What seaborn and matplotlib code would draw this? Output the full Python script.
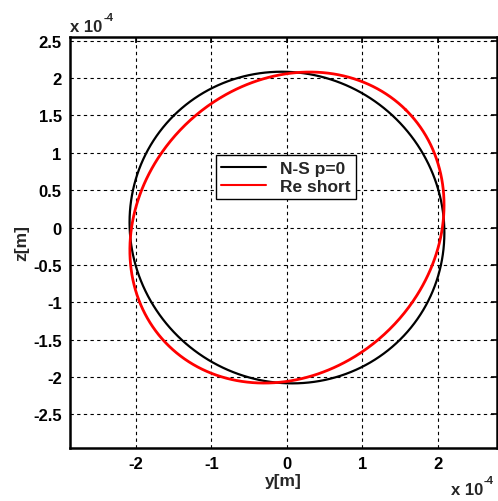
import numpy as np
import pandas as pd
import seaborn as sns
import matplotlib
matplotlib.use("Agg")
import matplotlib.pyplot as plt
from matplotlib.ticker import MultipleLocator, FuncFormatter

# Orbit shapes in the y-z plane (metres): semi-axes, tilt of the major axis, centre
series_names = ["N-S p=0", "Re short"]
semi_major = [2.12e-4, 2.227e-4]
semi_minor = [2.05e-4, 1.924e-4]
tilt_deg = [135.0, 45.0]
centre_y = [0.0, 0.0]
centre_z = [0.0, 0.0]
line_colors = ["#000000", "#ff0000"]
line_widths = [1.6, 2.0]

frames = []
theta = np.linspace(0, 2 * np.pi, 721)
for name, a, b, phi, cy, cz in zip(series_names, semi_major, semi_minor,
                                   tilt_deg, centre_y, centre_z):
    p = np.deg2rad(phi)
    u, v = a * np.cos(theta), b * np.sin(theta)
    frames.append(pd.DataFrame({
        "y": cy + u * np.cos(p) - v * np.sin(p),
        "z": cz + u * np.sin(p) + v * np.cos(p),
        "series": name,
    }))
df = pd.concat(frames, ignore_index=True)

sns.set_style("white")
plt.rcParams["font.family"] = ["Liberation Sans", "DejaVu Sans"]
plt.rcParams["font.weight"] = "bold"

fig = plt.figure(figsize=(4.98, 5.02), dpi=100)
ax = fig.add_axes([0.1406, 0.1056, 0.857, 0.8187])

sns.lineplot(data=df, x="y", y="z", hue="series", sort=False, estimator=None,
             units="series", palette=dict(zip(series_names, line_colors)),
             ax=ax, legend=False)
for line, lw in zip(ax.get_lines(), line_widths):
    line.set_linewidth(lw)

ax.set_xlim(-2.874e-4, 2.78e-4)
ax.set_ylim(-2.95e-4, 2.55e-4)

ax.xaxis.set_major_locator(MultipleLocator(1e-4))
ax.yaxis.set_major_locator(MultipleLocator(0.5e-4))


def scaled(v, pos):
    s = f"{round(v / 1e-4, 3):g}"
    return "0" if s in ("-0", "0") else s


ax.xaxis.set_major_formatter(FuncFormatter(scaled))
ax.yaxis.set_major_formatter(FuncFormatter(scaled))

ax.grid(True, color="black", linestyle=(0, (3, 3)), linewidth=0.8)
ax.set_axisbelow(True)
for s in ax.spines.values():
    s.set_visible(True)
    s.set_color("black")
    s.set_linewidth(1.8)
ax.tick_params(direction="in", length=4, width=1.2, top=True, right=True,
               labelsize=12, pad=6, colors="black")
for lab in ax.get_xticklabels() + ax.get_yticklabels():
    lab.set_fontweight("bold")

ax.set_xlabel("y[m]", fontsize=12.5, fontweight="bold", labelpad=1)
ax.set_ylabel("z[m]", fontsize=12.5, fontweight="bold", labelpad=3)


# Exponent markers for both axes: "x 10" with a raised "-4"
def exponent_label(x, y):
    t = fig.text(x, y, "x 10", fontsize=12, fontweight="bold",
                 ha="left", va="baseline")
    fig.canvas.draw()
    bb = t.get_window_extent()
    x1 = fig.transFigure.inverted().transform((bb.x1, bb.y0))[0]
    fig.text(x1 + 0.002, y + 0.021, "-4", fontsize=8, fontweight="bold",
             ha="left", va="baseline")


exponent_label(0.141, 0.937)
exponent_label(0.905, 0.014)

handles = [plt.Line2D([], [], color=c, lw=1.5) for c in line_colors]
leg = ax.legend(handles, series_names, loc="center",
                bbox_to_anchor=(0.506, 0.659), fontsize=12.5, frameon=True,
                fancybox=False, edgecolor="black", framealpha=1,
                handlelength=2.6, borderpad=0.3, labelspacing=0.15,
                handletextpad=0.8)
leg.get_frame().set_linewidth(1.0)
for t in leg.get_texts():
    t.set_fontweight("bold")

fig.savefig("out.png", dpi=100)
